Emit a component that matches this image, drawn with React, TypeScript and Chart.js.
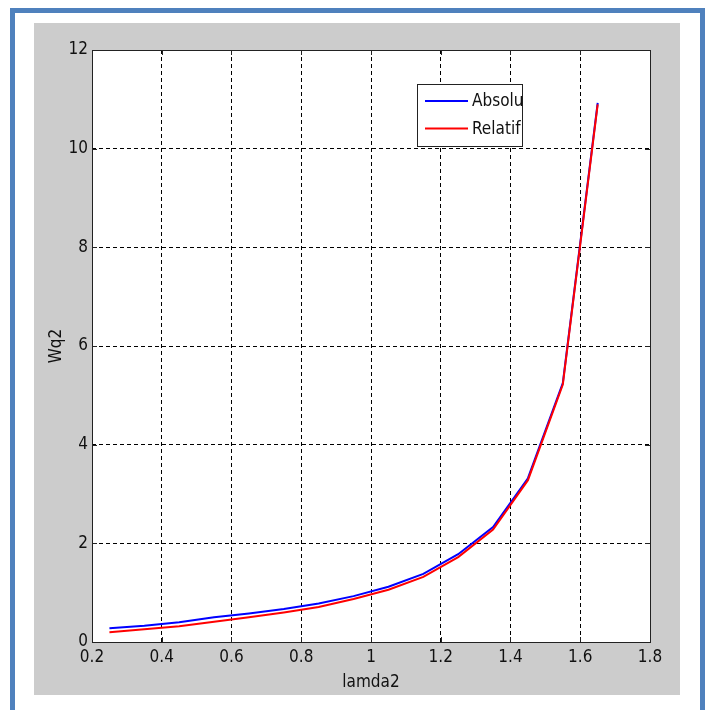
import React, { useEffect, useRef } from 'react';
import { Chart, registerables } from 'chart.js';

Chart.register(...registerables);

const lamda2 = [0.25, 0.35, 0.45, 0.55, 0.65, 0.75, 0.85, 0.95, 1.05, 1.15, 1.25, 1.35, 1.45, 1.55, 1.65];
const absolu = [0.28, 0.33, 0.4, 0.5, 0.58, 0.67, 0.78, 0.93, 1.12, 1.38, 1.78, 2.33, 3.32, 5.25, 10.93];
const relatif = [0.2, 0.26, 0.32, 0.41, 0.5, 0.6, 0.71, 0.87, 1.06, 1.32, 1.72, 2.28, 3.28, 5.22, 10.9];

const xTicks = [0.2, 0.4, 0.6, 0.8, 1, 1.2, 1.4, 1.6, 1.8];
const xTickLabels = ['0.2', '0.4', '0.6', '0.8', '1', '1.2', '1.4', '1.6', '1.8'];
const yTicks = [0, 2, 4, 6, 8, 10, 12];
const yTickLabels = ['0', '2', '4', '6', '8', '10', '12'];

const seriesNames = ['Absolu', 'Relatif'];
const seriesColors = ['#0000ff', '#ff0000'];

const FONT = "'Liberation Sans Narrow', 'DejaVu Sans Condensed', 'Liberation Sans', Arial, sans-serif";

const framePlugin = {
  id: 'matlabFrame',
  beforeDraw(chart: any) {
    const { ctx, chartArea: a } = chart;
    ctx.save();
    ctx.fillStyle = '#ffffff';
    ctx.fillRect(a.left, a.top, a.right - a.left, a.bottom - a.top);
    ctx.restore();
  },
  afterDraw(chart: any) {
    const { ctx, chartArea: a, scales } = chart;
    ctx.save();
    ctx.strokeStyle = '#222222';
    ctx.lineWidth = 1;
    ctx.strokeRect(a.left + 0.5, a.top + 0.5, a.right - a.left, a.bottom - a.top);
    // inward tick marks
    ctx.beginPath();
    const tl = 5;
    xTicks.forEach((v) => {
      const px = Math.round(scales.x.getPixelForValue(v)) + 0.5;
      ctx.moveTo(px, a.bottom);
      ctx.lineTo(px, a.bottom - tl);
      ctx.moveTo(px, a.top);
      ctx.lineTo(px, a.top + tl);
    });
    yTicks.forEach((v) => {
      const py = Math.round(scales.y.getPixelForValue(v)) + 0.5;
      ctx.moveTo(a.left, py);
      ctx.lineTo(a.left + tl, py);
      ctx.moveTo(a.right, py);
      ctx.lineTo(a.right - tl, py);
    });
    ctx.stroke();

    // legend box
    const bx = 383, by = 61, bw = 105, bh = 62;
    ctx.fillStyle = '#ffffff';
    ctx.fillRect(bx, by, bw, bh);
    ctx.strokeStyle = '#222222';
    ctx.strokeRect(bx + 0.5, by + 0.5, bw, bh);
    ctx.font = `17px ${FONT}`;
    ctx.textBaseline = 'middle';
    ctx.textAlign = 'left';
    chart.data.datasets.forEach((ds: any, i: number) => {
      const ly = 78 + i * 27.5;
      ctx.strokeStyle = ds.borderColor;
      ctx.lineWidth = 2;
      ctx.beginPath();
      ctx.moveTo(391, ly);
      ctx.lineTo(434, ly);
      ctx.stroke();
      ctx.fillStyle = '#111111';
      ctx.fillText(ds.label, 438, ly + 1);
    });
    ctx.restore();
  },
};

export default function App() {
  const ref = useRef<HTMLCanvasElement | null>(null);

  useEffect(() => {
    if (!ref.current) return;
    const datasets = [absolu, relatif].map((vals, i) => ({
      label: seriesNames[i],
      data: lamda2.map((x, j) => ({ x, y: vals[j] })),
      borderColor: seriesColors[i],
      backgroundColor: seriesColors[i],
      borderWidth: 2,
      pointRadius: 0,
      showLine: true,
      tension: 0,
      order: 1 - i,
    }));
    const chart = new Chart(ref.current, {
      type: 'scatter',
      data: { datasets },
      plugins: [framePlugin],
      options: {
        animation: false,
        responsive: false,
        maintainAspectRatio: false,
        devicePixelRatio: 1,
        layout: { padding: { left: 0, top: 27, right: 30, bottom: 0 } },
        plugins: { legend: { display: false }, tooltip: { enabled: false } },
        scales: {
          x: {
            type: 'linear',
            min: 0.2,
            max: 1.8,
            afterBuildTicks: (s: any) => {
              s.ticks = xTicks.map((v) => ({ value: v }));
            },
            afterFit: (s: any) => {
              s.height = 53;
            },
            ticks: {
              callback: (_v: any, i: number) => xTickLabels[i],
              padding: 5,
              color: '#111111',
              font: { family: FONT, size: 17 },
              maxRotation: 0,
              autoSkip: false,
            },
            grid: { color: '#000000', lineWidth: 1, drawTicks: false, tickLength: 0 },
            border: { display: false, dash: [4, 3] },
            title: {
              display: true,
              text: 'lamda2',
              color: '#111111',
              font: { family: FONT, size: 17, lineHeight: 1 },
              padding: { top: 0, bottom: 4 },
            },
          },
          y: {
            type: 'linear',
            min: 0,
            max: 12,
            afterBuildTicks: (s: any) => {
              s.ticks = yTicks.map((v) => ({ value: v }));
            },
            afterFit: (s: any) => {
              s.width = 58;
            },
            ticks: {
              callback: (_v: any, i: number) => yTickLabels[i],
              padding: 4,
              color: '#111111',
              font: { family: FONT, size: 17 },
              autoSkip: false,
            },
            grid: { color: '#000000', lineWidth: 1, drawTicks: false, tickLength: 0 },
            border: { display: false, dash: [4, 3] },
            title: {
              display: true,
              text: 'Wq2',
              color: '#111111',
              font: { family: FONT, size: 17, lineHeight: 1 },
              padding: { top: 14, bottom: 0 },
            },
          },
        },
      },
    });
    return () => chart.destroy();
  }, []);

  return (
    <div style={{ position: 'absolute', left: 0, top: 0, width: 709, height: 710, background: '#ffffff', overflow: 'hidden' }}>
      <div
        style={{
          position: 'absolute',
          left: 10,
          top: 8,
          width: 685,
          height: 720,
          border: '5px solid #4f81bd',
          boxSizing: 'content-box',
        }}
      />
      <canvas
        ref={ref}
        width={646}
        height={672}
        style={{ position: 'absolute', left: 34, top: 23, width: 646, height: 672, background: '#cccccc' }}
      />
    </div>
  );
}
